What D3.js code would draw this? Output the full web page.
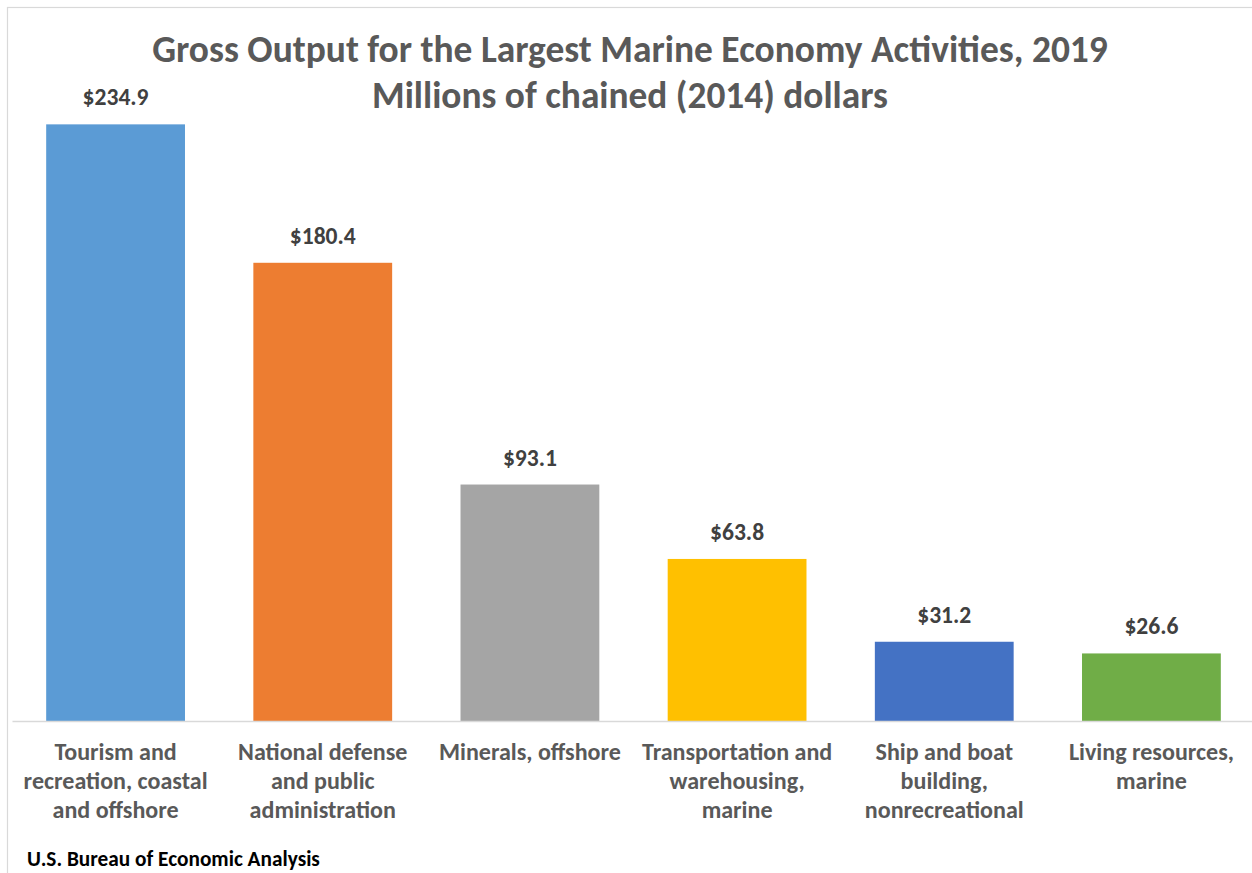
<!DOCTYPE html>
<html>
<head>
<meta charset="utf-8">
<script src="https://cdn.jsdelivr.net/npm/d3@7/dist/d3.min.js"></script>
<style>
  html, body { margin: 0; padding: 0; background: #fff; }
  svg { display: block; }
  text { font-family: Carlito, Lato, "Open Sans", sans-serif; font-weight: bold; }
</style>
</head>
<body>
<svg id="chart" width="1252" height="873"></svg>
<script>
const titleLines = ["Gross Output for the Largest Marine Economy Activities, 2019", "Millions of chained (2014) dollars"];
const categories = [
  "Tourism and\nrecreation, coastal\nand offshore",
  "National defense\nand public\nadministration",
  "Minerals, offshore",
  "Transportation and\nwarehousing,\nmarine",
  "Ship and boat\nbuilding,\nnonrecreational",
  "Living resources,\nmarine"
];
const values = [234.9, 180.4, 93.1, 63.8, 31.2, 26.6];
const valueLabels = ["$234.9", "$180.4", "$93.1", "$63.8", "$31.2", "$26.6"];
const barColors = ["#5B9BD5", "#ED7D31", "#A5A5A5", "#FFC000", "#4472C4", "#70AD47"];
const sourceText = "U.S. Bureau of Economic Analysis";

const svg = d3.select("#chart");

// fit a text element's font size so its rendered width matches a target width
function fitWidth(sel, target) {
  const node = sel.node();
  const fs = parseFloat(sel.attr("font-size"));
  const w = node.getComputedTextLength();
  if (w > 0) sel.attr("font-size", (fs * target / w).toFixed(2));
}

// chart border
svg.append("rect")
  .attr("x", 7.5).attr("y", 7.5)
  .attr("width", 1300).attr("height", 1000)
  .attr("fill", "none").attr("stroke", "#d9d9d9").attr("stroke-width", 1.2);

const x = d3.scaleBand().domain(categories).range([12, 1255]).paddingInner(0.33).paddingOuter(0.165);
const y = d3.scaleLinear().domain([0, 250]).range([721, 86]);

// bars
svg.append("g").selectAll("rect").data(values).join("rect")
  .attr("x", (d, i) => x(categories[i]))
  .attr("y", d => y(d))
  .attr("width", x.bandwidth())
  .attr("height", d => y(0) - y(d))
  .attr("fill", (d, i) => barColors[i]);

// axis
const axis = svg.append("g")
  .attr("transform", `translate(0,${y(0)})`)
  .call(d3.axisBottom(x).tickSize(0).tickSizeOuter(0).tickPadding(0));
axis.select(".domain").attr("stroke", "#d9d9d9").attr("stroke-width", 1.5);
axis.selectAll(".tick text").each(function(d) {
  const t = d3.select(this);
  t.text(null)
    .attr("y", 0).attr("dy", null)
    .attr("fill", "#595959")
    .attr("font-size", 20)
    .attr("font-family", "Carlito, Lato, 'Open Sans', sans-serif")
    .attr("font-weight", "bold");
  d.split("\n").forEach((line, k) => {
    t.append("tspan").attr("x", 0).attr("y", 39 + k * 29).text(line);
  });
});
// scale tick label font so "recreation, coastal" ~ 184px wide
{
  const probe = svg.append("text").attr("font-size", 20).text("recreation, coastal");
  const w = probe.node().getComputedTextLength();
  probe.remove();
  const fs = 20 * 184 / w;
  axis.selectAll(".tick text").attr("font-size", fs.toFixed(2));
}

// value labels
const lbl = svg.append("g").selectAll("text").data(values).join("text")
  .attr("x", (d, i) => x(categories[i]) + x.bandwidth() / 2)
  .attr("y", d => y(d) - 19)
  .attr("text-anchor", "middle")
  .attr("fill", "#404040")
  .attr("font-size", 20)
  .text((d, i) => valueLabels[i]);
{
  const probe = svg.append("text").attr("font-size", 20).text("$234.9");
  const w = probe.node().getComputedTextLength();
  probe.remove();
  lbl.attr("font-size", (20 * 66 / w).toFixed(2));
}

// title
const t1 = svg.append("text").attr("x", 630).attr("y", 62).attr("text-anchor", "middle")
  .attr("fill", "#595959").attr("font-size", 32).text(titleLines[0]);
fitWidth(t1, 956);
const t2 = svg.append("text").attr("x", 630).attr("y", 108).attr("text-anchor", "middle")
  .attr("fill", "#595959").attr("font-size", 32).text(titleLines[1]);
fitWidth(t2, 516);

// source
const src = svg.append("text").attr("x", 27).attr("y", 866)
  .attr("fill", "#000").attr("font-size", 16).text(sourceText);
fitWidth(src, 293);
</script>
</body>
</html>
